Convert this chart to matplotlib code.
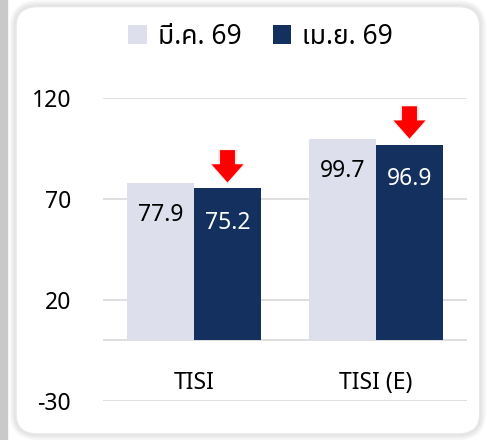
import matplotlib.pyplot as plt
import numpy as np
from matplotlib.patches import FancyBboxPatch, Rectangle

plt.rcParams['font.family'] = ['Noto Sans Thai', 'Noto Sans', 'DejaVu Sans']

# ข้อมูล
categorias = ['TISI', 'TISI (E)']
series = ['มี.ค. 69', 'เม.ย. 69']
mar = [77.9, 99.7]
abr = [75.2, 96.9]
yticks = [-30, 20, 70, 120]

cor_clara = '#dde0ec'
cor_escura = '#14305e'

fig = plt.figure(figsize=(4.87, 4.40), dpi=100)

# fundo / cartao
fig.patches.append(Rectangle((0, 0), 7 / 487, 1, transform=fig.transFigure,
                             color='#c9c9c9', zorder=-5))
x0, y0, cw, ch = 16 / 487, 6 / 440, 0.985 - 16 / 487, 0.985 - 6 / 440
for k in range(4):
    fig.patches.append(FancyBboxPatch((x0, y0), cw, ch,
                                      boxstyle='round,pad=0,rounding_size=0.045',
                                      transform=fig.transFigure, fc='none',
                                      ec='black', lw=1.5 + k * 2.5, alpha=0.03, zorder=-4))
fig.patches.append(FancyBboxPatch((x0, y0), cw, ch,
                                  boxstyle='round,pad=0,rounding_size=0.045',
                                  transform=fig.transFigure, fc='white',
                                  ec='#e8e8e8', lw=1, zorder=-3))

ax = fig.add_axes([103 / 487, 1 - 401 / 440, (467 - 103) / 487, (401 - 98) / 440])
ax.set_facecolor('none')
ax.set_zorder(2)

x = np.arange(len(categorias))
w = 0.368
b1 = ax.bar(x - w / 2, mar, w, color=cor_clara, label=series[0], zorder=3)
b2 = ax.bar(x + w / 2, abr, w, color=cor_escura, label=series[1], zorder=3)


def seta(cx, base, cor, alpha=1.0, extra=0.0):
    # seta para baixo: ponta em base
    sw, hw = 0.041 + extra, 0.088 + extra
    px = [cx - sw, cx + sw, cx + sw, cx + hw, cx, cx - hw, cx - sw]
    py = [base + 16 + extra * 25, base + 16 + extra * 25, base + 9, base + 9,
          base - extra * 25, base + 9, base + 9]
    ax.fill(px, py, color=cor, alpha=alpha, lw=0, zorder=5)


for i in range(len(categorias)):
    ax.text(x[i] - w / 2, mar[i] - 16, f'{mar[i]:.1f}', ha='center', va='center',
            fontsize=16.5, color='black', zorder=4)
    ax.text(x[i] + w / 2, abr[i] - 17, f'{abr[i]:.1f}', ha='center', va='center',
            fontsize=16.5, color='white', zorder=4)
    # seta vermelha com brilho
    cx = x[i] + w / 2
    seta(cx, abr[i] + 3, '#ff6060', 0.15, 0.012)
    seta(cx, abr[i] + 3, '#ff0000')

ax.set_xlim(-0.5, 1.5)
ax.set_ylim(-30, 120)
ax.set_yticks(yticks)
for t in yticks:
    ax.axhline(t, color='#d8dbe6' if t == 120 else '#d9d9d9', lw=1.2, zorder=1)
ax.axhline(0, color='#d9d9d9', lw=1.2, zorder=1)

ax.set_xticks([])
for i, c in enumerate(categorias):
    ax.text(x[i], -21, c, ha='center', va='center', fontsize=16.5)

ax.tick_params(axis='y', length=0, labelsize=16.5, pad=23)
for s in ax.spines.values():
    s.set_visible(False)

fig.legend(handles=[b1, b2], loc='center', bbox_to_anchor=(0.535, 1 - 37 / 440),
           ncol=2, frameon=False, fontsize=19, handlelength=0.7, handleheight=0.75,
           handletextpad=0.4, columnspacing=1.2)

plt.savefig('out.png', dpi=100)
